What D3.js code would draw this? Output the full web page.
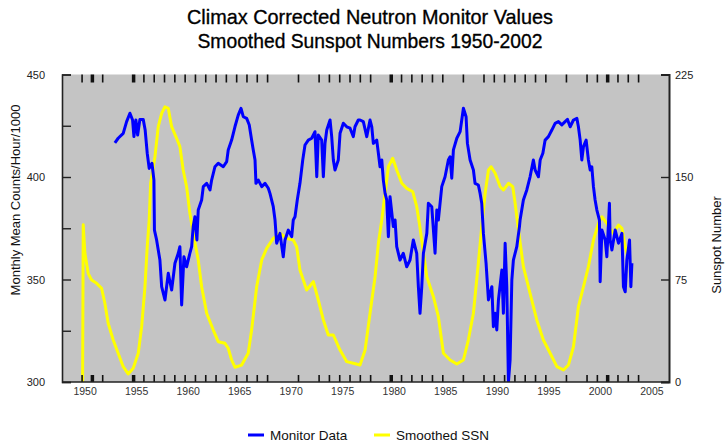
<!DOCTYPE html>
<html>
<head>
<meta charset="utf-8">
<script src="https://cdn.jsdelivr.net/npm/d3@7"></script>
<style>
  html, body { margin: 0; padding: 0; background: #fff; }
  svg { display: block; }
  .tick text { font-family: "Liberation Sans", Arial, sans-serif; }
</style>
</head>
<body>
<div id="chart"></div>
<script>
// Monthly mean neutron counts (Climax)
const monitorYears = [
  1953.23, 1953.55, 1954.04, 1954.37, 1954.69, 1954.95, 1955.08, 1955.27, 1955.44, 1955.66,
  1955.98, 1956.17, 1956.37, 1956.56, 1956.83, 1957.02, 1957.07, 1957.28, 1957.60, 1957.77,
  1958.09, 1958.41, 1958.74, 1959.06, 1959.38, 1959.54, 1959.71, 1959.93, 1960.19, 1960.51,
  1960.68, 1960.83, 1961.00, 1961.19, 1961.32, 1961.65, 1961.81, 1962.14, 1962.46, 1962.62,
  1962.94, 1963.26, 1963.75, 1964.08, 1964.23, 1964.56, 1964.88, 1965.20, 1965.47, 1965.69,
  1966.02, 1966.27, 1966.50, 1966.66, 1966.83, 1966.92, 1967.15, 1967.48, 1967.80, 1968.12,
  1968.28, 1968.60, 1968.77, 1968.93, 1969.25, 1969.57, 1969.74, 1970.06, 1970.39, 1970.54,
  1970.71, 1970.93, 1971.19, 1971.46, 1971.68, 1972.00, 1972.33, 1972.65, 1972.82, 1972.97,
  1973.30, 1973.46, 1973.62, 1973.79, 1974.11, 1974.27, 1974.43, 1974.59, 1974.91, 1975.08,
  1975.40, 1975.73, 1976.05, 1976.37, 1976.53, 1976.85, 1977.02, 1977.34, 1977.67, 1977.99,
  1978.16, 1978.31, 1978.64, 1978.80, 1978.96, 1979.13, 1979.28, 1979.45, 1979.61, 1979.77,
  1979.93, 1980.25, 1980.42, 1980.58, 1980.90, 1981.22, 1981.55, 1981.87, 1982.19, 1982.52,
  1982.68, 1982.84, 1983.01, 1983.17, 1983.50, 1983.65, 1983.98, 1984.30, 1984.47, 1984.62,
  1984.95, 1985.27, 1985.59, 1985.76, 1985.92, 1986.08, 1986.41, 1986.73, 1986.89, 1987.05,
  1987.31, 1987.44, 1987.70, 1988.02, 1988.18, 1988.50, 1988.67, 1988.83, 1988.99, 1989.25,
  1989.48, 1989.81, 1989.96, 1990.13, 1990.29, 1990.45, 1990.78, 1990.93, 1991.10, 1991.26,
  1991.42, 1991.58, 1991.75, 1991.90, 1992.23, 1992.49, 1992.55, 1992.87, 1993.20, 1993.52,
  1993.84, 1994.01, 1994.33, 1994.50, 1994.76, 1994.98, 1995.30, 1995.63, 1995.95, 1996.27,
  1996.60, 1996.92, 1997.15, 1997.41, 1997.73, 1998.06, 1998.21, 1998.38, 1998.54, 1998.70,
  1998.96, 1999.18, 1999.35, 1999.51, 1999.67, 1999.83, 2000.00, 2000.25, 2000.32, 2000.49,
  2000.81, 2000.97, 2001.22, 2001.29, 2001.46, 2001.78, 2002.10, 2002.43, 2002.58, 2002.75,
  2002.91, 2003.17, 2003.30, 2003.40
];
const monitorValues = [
  416.7, 418.9, 421.3, 427.0, 431.1, 427.8, 419.7, 427.8, 420.5, 428.1,
  428.1, 422.9, 411.6, 404.2, 406.7, 398.5, 374.1, 369.3, 359.5, 346.5,
  340.0, 353.0, 344.9, 357.9, 362.8, 366.0, 337.6, 361.1, 356.2, 362.8,
  366.0, 375.8, 380.6, 369.3, 383.9, 388.8, 395.3, 396.9, 393.7, 398.5,
  405.0, 406.7, 405.0, 407.5, 413.2, 418.0, 424.5, 430.2, 433.5, 429.4,
  428.6, 425.4, 418.0, 413.2, 408.3, 396.9, 398.5, 395.3, 396.9, 394.5,
  392.0, 385.5, 379.0, 367.7, 372.5, 361.1, 369.3, 374.1, 370.9, 379.0,
  380.6, 388.8, 396.9, 408.3, 415.6, 418.0, 418.9, 422.1, 400.1, 420.5,
  418.0, 400.1, 416.4, 422.9, 427.8, 419.7, 408.3, 403.4, 408.3, 421.3,
  426.2, 424.5, 423.8, 419.7, 424.5, 427.8, 427.8, 427.0, 419.7, 427.8,
  424.5, 416.4, 418.0, 411.6, 405.0, 408.3, 398.5, 392.0, 388.8, 370.9,
  390.4, 375.8, 379.0, 366.0, 359.5, 362.8, 356.2, 359.5, 369.3, 362.8,
  346.5, 333.5, 346.5, 362.8, 372.5, 387.2, 385.5, 362.8, 383.9, 379.0,
  395.3, 400.1, 408.3, 409.9, 399.4, 413.2, 418.9, 422.1, 427.8, 433.5,
  429.4, 416.4, 408.3, 403.4, 396.9, 396.1, 392.0, 387.2, 372.5, 357.9,
  340.0, 346.5, 327.0, 333.5, 325.4, 340.0, 354.6, 333.5, 367.7, 346.5,
  300.0, 310.7, 349.8, 359.5, 366.0, 375.8, 379.0, 388.8, 393.7, 400.1,
  408.3, 403.4, 400.1, 408.3, 411.6, 418.0, 419.7, 422.9, 426.2, 427.0,
  425.4, 427.0, 428.1, 424.5, 427.8, 428.6, 424.5, 418.0, 408.3, 414.8,
  418.0, 408.3, 403.4, 405.0, 395.3, 388.8, 383.9, 379.0, 348.9, 374.1,
  369.3, 361.1, 387.2, 369.3, 364.4, 374.1, 367.7, 372.5, 346.5, 344.0,
  359.5, 369.3, 346.5, 357.9
];

// Smoothed sunspot number
const ssnYears = [
  1950.10, 1950.16, 1950.32, 1950.64, 1950.97, 1951.46, 1951.94, 1952.26, 1952.58, 1953.07,
  1953.55, 1954.04, 1954.52, 1955.01, 1955.50, 1955.83, 1956.15, 1956.37, 1956.56, 1956.70,
  1957.12, 1957.44, 1957.77, 1958.09, 1958.41, 1958.74, 1959.22, 1959.54, 1959.86, 1960.19,
  1960.51, 1960.83, 1961.32, 1961.65, 1962.14, 1962.78, 1963.26, 1963.91, 1964.23, 1964.56,
  1964.88, 1965.53, 1966.17, 1966.50, 1966.99, 1967.48, 1967.96, 1968.60, 1969.25, 1969.90,
  1970.54, 1970.87, 1971.19, 1971.84, 1972.49, 1972.97, 1973.46, 1973.94, 1974.43, 1975.08,
  1975.73, 1976.37, 1977.02, 1977.51, 1977.99, 1978.48, 1978.80, 1979.13, 1979.45, 1979.77,
  1980.19, 1980.58, 1981.07, 1981.55, 1982.14, 1982.52, 1982.80, 1983.50, 1984.14, 1984.62,
  1985.11, 1985.76, 1986.41, 1987.05, 1987.53, 1988.02, 1988.50, 1988.83, 1989.16, 1989.48,
  1989.74, 1990.13, 1990.62, 1990.93, 1991.42, 1991.84, 1992.07, 1992.39, 1992.87, 1993.52,
  1994.17, 1994.81, 1995.47, 1996.12, 1996.76, 1997.24, 1997.73, 1998.21, 1998.70, 1999.18,
  1999.67, 2000.16, 2000.49, 2000.97, 2001.13, 2001.61, 2002.10, 2002.43, 2002.75, 2003.07
];
const ssnValues = [
  0, 115, 94.4, 79.5, 74.6, 72.2, 68.6, 57.6, 43.0, 30.7,
  21.0, 11.2, 5.9, 10.0, 21.0, 40.5, 69.7, 99.0, 118.5, 145.4,
  164.9, 186.8, 196.6, 201.4, 200.3, 186.8, 178.3, 172.2, 155.1, 142.9,
  123.4, 108.8, 89.3, 69.7, 50.3, 38.0, 29.5, 28.3, 24.7, 16.1,
  10.8, 12.4, 21.0, 38.0, 69.7, 89.3, 97.8, 105.1, 108.8, 105.1,
  103.9, 99.0, 81.9, 67.3, 73.4, 60.0, 45.4, 34.4, 34.4, 23.4,
  14.9, 13.7, 12.4, 23.4, 50.3, 77.0, 101.5, 118.5, 138.1, 157.5,
  163.7, 155.1, 145.4, 141.7, 139.2, 128.3, 114.9, 77.0, 62.4, 47.8,
  21.0, 16.1, 13.2, 16.1, 30.7, 50.3, 86.9, 113.6, 138.1, 155.1,
  157.5, 152.7, 142.9, 140.5, 145.4, 142.9, 130.8, 111.2, 84.4, 64.9,
  45.4, 30.7, 21.0, 11.2, 8.8, 12.4, 25.8, 55.1, 69.7, 84.4,
  103.9, 116.1, 120.9, 116.1, 113.6, 108.8, 114.9, 112.5, 99.0, 90.5
];

// axis ticks
const tickYears = [1950, 1951, 1952, 1955, 1956, 1957, 1958, 1959, 1960, 1961, 1962, 1963, 1964,
  1965, 1966, 1967, 1968, 1971, 1973, 1974, 1975, 1976, 1977, 1978, 1980, 1981, 1982, 1983,
  1984, 1985, 1987, 1989, 1990, 1991, 1992, 1993, 1994, 1995, 1997, 1999, 2000, 2001, 2002,
  2003, 2004];
const thickTickYears = [1951, 1955, 1980, 2001];
const yearLabels = [1950, 1955, 1960, 1965, 1970, 1975, 1980, 1985, 1990, 1995, 2000, 2005];
const leftTicks = [300, 325, 350, 375, 400, 425, 450];
const rightTicks = [0, 75, 150, 225];

const titleLines = ['Climax Corrected Neutron Monitor Values', 'Smoothed Sunspot Numbers 1950-2002'];
const titleWidths = [366, 345];
const legendItems = [
  { label: 'Monitor Data', color: '#0000ff' },
  { label: 'Smoothed SSN', color: '#ffff00' }
];

const W = 725, H = 445;
const box = { left: 62, right: 669, top: 74.5, bottom: 382 };

const svg = d3.select('#chart').append('svg')
  .attr('width', W)
  .attr('height', H);

const x = d3.scaleLinear().domain([1948.1, 2007]).range([box.left, box.right]);
const yLeft = d3.scaleLinear().domain([300, 450]).range([box.bottom, box.top]);
const yRight = d3.scaleLinear().domain([0, 225]).range([box.bottom, box.top]);

// title (narrow look: squeeze the text to the measured width)
svg.append('g').selectAll('text')
  .data(titleLines)
  .enter().append('text')
  .attr('x', 370)
  .attr('y', (d, i) => 24 + i * 24)
  .attr('text-anchor', 'middle')
  .attr('font-family', '"Liberation Sans", Arial, sans-serif')
  .attr('font-size', 21)
  .attr('textLength', (d, i) => titleWidths[i])
  .attr('lengthAdjust', 'spacingAndGlyphs')
  .attr('fill', '#000')
  .attr('stroke', '#000')
  .attr('stroke-width', 0.35)
  .text(d => d);

// plot background
svg.append('rect')
  .attr('x', box.left)
  .attr('y', box.top)
  .attr('width', box.right - box.left)
  .attr('height', box.bottom - box.top)
  .attr('fill', '#c4c4c4');

svg.append('defs').append('clipPath')
  .attr('id', 'plot-clip')
  .append('rect')
  .attr('x', box.left)
  .attr('y', box.top - 2)
  .attr('width', box.right - box.left)
  .attr('height', box.bottom - box.top + 2);

const plot = svg.append('g').attr('clip-path', 'url(#plot-clip)');

// top / bottom year ticks (inside the plot)
const topAxis = svg.append('g')
  .attr('transform', `translate(0,${box.top})`)
  .call(d3.axisTop(x).tickValues(tickYears).tickSize(-8).tickFormat(''));
const bottomAxis = svg.append('g')
  .attr('transform', `translate(0,${box.bottom})`)
  .call(d3.axisBottom(x).tickValues(tickYears).tickSize(-7).tickFormat(''));
[topAxis, bottomAxis].forEach(a => {
  a.select('.domain').remove();
  a.selectAll('.tick line')
    .attr('stroke', '#111')
    .attr('stroke-width', d => thickTickYears.includes(d) ? 3.5 : 1.6);
});

// year labels
const labelAxis = svg.append('g')
  .attr('transform', `translate(3,${box.bottom})`)
  .call(d3.axisBottom(x).tickValues(yearLabels).tickSize(0).tickPadding(6).tickFormat(d3.format('d')));
labelAxis.select('.domain').remove();
labelAxis.selectAll('text')
  .attr('font-size', 10.5)
  .attr('fill', '#333');

// left axis
const leftAxis = svg.append('g')
  .attr('transform', `translate(${box.left},0)`)
  .call(d3.axisLeft(yLeft).tickValues(leftTicks).tickSize(-9).tickPadding(17)
    .tickFormat(d => d % 50 === 0 ? d : ''));
leftAxis.select('.domain').attr('stroke', '#222').attr('stroke-width', 1.6);
leftAxis.selectAll('.tick line').attr('stroke', '#222').attr('stroke-width', 1.4);
leftAxis.selectAll('text').attr('font-size', 11).attr('fill', '#222');

// right axis
const rightAxis = svg.append('g')
  .attr('transform', `translate(${box.right},0)`)
  .call(d3.axisRight(yRight).tickValues(rightTicks).tickSize(-8).tickPadding(6));
rightAxis.select('.domain').attr('stroke', '#222').attr('stroke-width', 2);
rightAxis.selectAll('.tick line').attr('stroke', '#222').attr('stroke-width', 1.4);
rightAxis.selectAll('text').attr('font-size', 11).attr('fill', '#222');

// bottom frame line
svg.append('line')
  .attr('x1', box.left).attr('x2', box.right)
  .attr('y1', box.bottom).attr('y2', box.bottom)
  .attr('stroke', '#222').attr('stroke-width', 1.6);

// series
const ssnLine = d3.line()
  .x((d, i) => x(ssnYears[i]))
  .y(d => yRight(d));
plot.append('path')
  .datum(ssnValues)
  .attr('fill', 'none')
  .attr('stroke', '#ffff00')
  .attr('stroke-width', 3)
  .attr('stroke-linejoin', 'round')
  .attr('d', ssnLine);

const monitorLine = d3.line()
  .x((d, i) => x(monitorYears[i]))
  .y(d => yLeft(d));
plot.append('path')
  .datum(monitorValues)
  .attr('fill', 'none')
  .attr('stroke', '#0000ff')
  .attr('stroke-width', 3)
  .attr('stroke-linejoin', 'round')
  .attr('d', monitorLine);

// axis titles
svg.append('text')
  .attr('transform', 'translate(20,200) rotate(-90)')
  .attr('text-anchor', 'middle')
  .attr('font-family', '"Liberation Sans", Arial, sans-serif')
  .attr('font-size', 13)
  .attr('fill', '#111')
  .text('Monthly Mean Counts/Hour/1000');

svg.append('text')
  .attr('transform', 'translate(721,245) rotate(-90)')
  .attr('text-anchor', 'middle')
  .attr('font-family', '"Liberation Sans", Arial, sans-serif')
  .attr('font-size', 13)
  .attr('fill', '#111')
  .text('Sunspot Number');

// legend
const legend = svg.append('g').attr('transform', 'translate(248,435)');
const legendX = [0, 126];
legendItems.forEach((item, i) => {
  const g = legend.append('g').attr('transform', `translate(${legendX[i]},0)`);
  g.append('line')
    .attr('x1', 0).attr('x2', 16)
    .attr('stroke', item.color)
    .attr('stroke-width', 3);
  g.append('text')
    .attr('x', 22)
    .attr('y', 4.5)
    .attr('font-family', '"Liberation Sans", Arial, sans-serif')
    .attr('font-size', 13.5)
    .attr('fill', '#111')
    .text(item.label);
});
</script>
</body>
</html>
